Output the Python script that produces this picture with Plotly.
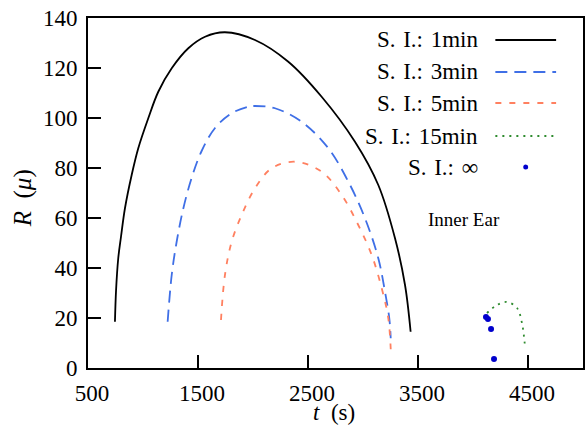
import plotly.graph_objects as go

# ---- data ----
t_1min = [745, 755, 775, 800, 836, 897, 957, 1048, 1139, 1261, 1412, 1564, 1745, 2018, 2321, 2624, 2927, 3139, 3291, 3382, 3433]
R_1min = [18.5, 31, 43.9, 52.5, 63.9, 77.2, 87.9, 99.9, 110.5, 119.9, 127.9, 132.5, 134.3, 131.2, 122.5, 108.5, 90.5, 73.2, 51.9, 33.2, 14.5]

t_3min = [1224, 1261, 1306, 1367, 1442, 1533, 1655, 1806, 1957, 2018, 2200, 2442, 2685, 2867, 3018, 3139, 3200, 3239, 3252]
R_3min = [18.5, 37.2, 50.5, 63.9, 76.0, 86.8, 96.0, 101.9, 104.5, 104.8, 103.9, 98.5, 87.9, 74.5, 59.9, 43.9, 30.5, 19.9, 11.9]

t_5min = [1709, 1745, 1806, 1897, 2018, 2170, 2382, 2624, 2806, 2957, 3079, 3170, 3230, 3255]
R_5min = [19.2, 37.2, 50.5, 61.2, 71.9, 79.9, 82.5, 78.5, 69.2, 57.2, 45.2, 31.9, 19.9, 4.5]

t_15min = [4127, 4218, 4309, 4400, 4445, 4473]
R_15min = [22, 25.2, 26.4, 24, 18, 8.4]

t_inf = [4118, 4136, 4164, 4191]
R_inf = [20.4, 19.6, 15.6, 3.6]

legend_labels = ["S.\u2004I.:\u20041min", "S.\u2004I.:\u20043min", "S.\u2004I.:\u20045min",
                 "S.\u2004I.:\u200415min", "S.\u2004I.:\u2004∞"]
x_ticks = [500, 1500, 2500, 3500, 4500]
y_ticks = [0, 20, 40, 60, 80, 100, 120, 140]

FONT = "Liberation Serif"
FS = 23
L, R_, T, B = 88, 2, 18, 58
W, H = 587, 426
PW, PH = W - L - R_, H - T - B

def px(x):
    return (x - L) / PW

def py(y):
    return (H - B - y) / PH

styles = [
    dict(color="black", width=1.8, dash="solid"),
    dict(color="#3F6FE6", width=1.8, dash="12px,7px"),
    dict(color="#FF8060", width=1.8, dash="6px,8px"),
    dict(color="#2E8B2E", width=1.8, dash="2px,5px"),
]

fig = go.Figure()
series = [(t_1min, R_1min), (t_3min, R_3min), (t_5min, R_5min), (t_15min, R_15min)]
for (tt, rr), st in zip(series, styles):
    fig.add_trace(go.Scatter(x=tt, y=rr, mode="lines", line=dict(shape="spline", smoothing=1.0, **st),
                             showlegend=False))
fig.add_trace(go.Scatter(x=t_inf, y=R_inf, mode="markers", marker=dict(color="#0000CC", size=6),
                         showlegend=False))

axis_common = dict(showline=True, linecolor="black", linewidth=2, mirror=True, showgrid=False,
                   zeroline=False, ticks="inside", ticklen=13, tickwidth=2, tickcolor="black",
                   tickfont=dict(family=FONT, size=FS, color="black"))
fig.update_xaxes(range=[500, 5000], tickvals=x_ticks, ticklabelshift=4, ticklabelstandoff=3, **axis_common)
fig.update_yaxes(range=[0, 140], tickvals=y_ticks, ticklabelstandoff=4, **axis_common)

# custom legend (text right, sample left like gnuplot)
rows = [40, 72, 103, 136, 167]
for i, (lab, yy) in enumerate(zip(legend_labels, rows)):
    fig.add_annotation(x=px(482), y=py(yy), xref="paper", yref="paper", text=lab, showarrow=False,
                       xanchor="right", yanchor="middle", font=dict(family=FONT, size=FS, color="black"))
    if i < 4:
        fig.add_shape(type="line", xref="paper", yref="paper", x0=px(497), x1=px(558), y0=py(yy), y1=py(yy),
                      line=styles[i])
    else:
        fig.add_shape(type="circle", xref="paper", yref="paper", x0=px(525), x1=px(530),
                      y0=py(yy + 2.5), y1=py(yy - 2.5), fillcolor="#0000CC", line=dict(width=0))

fig.add_annotation(x=px(466), y=py(219), xref="paper", yref="paper", text="Inner Ear", showarrow=False,
                   xanchor="center", yanchor="middle", font=dict(family=FONT, size=19, color="black"))
fig.add_annotation(x=px(23), y=py(198), xref="paper", yref="paper", text="<i>R</i>\u2002(<i>μ</i>)",
                   showarrow=False, xanchor="center", yanchor="middle", textangle=-90,
                   font=dict(family=FONT, size=25, color="black"))
fig.add_annotation(x=px(335), y=py(412), xref="paper", yref="paper", text="<i>t</i>\u2002(s)", showarrow=False,
                   xanchor="center", yanchor="middle", font=dict(family=FONT, size=23, color="black"))

fig.update_layout(width=W, height=H, margin=dict(l=L, r=R_, t=T, b=B), plot_bgcolor="white",
                  paper_bgcolor="white", showlegend=False)
fig.write_html("out.html")
